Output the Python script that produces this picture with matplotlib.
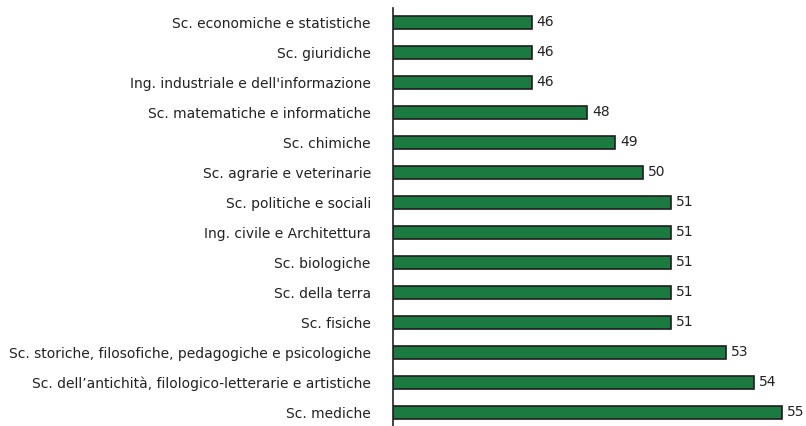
import matplotlib
matplotlib.use("Agg")
import matplotlib.pyplot as plt

categories = [
    "Sc. economiche e statistiche",
    "Sc. giuridiche",
    "Ing. industriale e dell'informazione",
    "Sc. matematiche e informatiche",
    "Sc. chimiche",
    "Sc. agrarie e veterinarie",
    "Sc. politiche e sociali",
    "Ing. civile e Architettura",
    "Sc. biologiche",
    "Sc. della terra",
    "Sc. fisiche",
    "Sc. storiche, filosofiche, pedagogiche e psicologiche",
    "Sc. dell\u2019antichit\u00e0, filologico-letterarie e artistiche",
    "Sc. mediche",
]
values = [46, 46, 46, 48, 49, 50, 51, 51, 51, 51, 51, 53, 54, 55]

plt.rcParams['font.family'] = ['DejaVu Sans']

fig = plt.figure(figsize=(8.06, 4.26), dpi=100)
ax = fig.add_axes([393 / 806, 0, 1 - 393 / 806, 1 - 8 / 426])

x_min = 41
ypos = list(range(len(categories)))
ax.barh(ypos, [v - x_min for v in values], left=x_min, height=0.44,
        color='#1b7a3f', edgecolor='#1e1e1e', linewidth=1.2)

for y, v in zip(ypos, values):
    ax.text(v + 0.18, y, str(v), va='center', ha='left', fontsize=10,
            color='#222222', clip_on=False)

ax.set_xlim(x_min, x_min + (806 - 393) / 27.75)
ax.set_ylim(13.45, -0.47)
ax.set_yticks(ypos)
ax.set_yticklabels(categories, fontsize=10, color='#222222')
ax.tick_params(axis='y', length=0, pad=16)
ax.set_xticks([])
for s in ['top', 'right', 'bottom']:
    ax.spines[s].set_visible(False)
ax.spines['left'].set_color('#222222')
ax.spines['left'].set_linewidth(1.2)

fig.savefig('out.png', dpi=100)
